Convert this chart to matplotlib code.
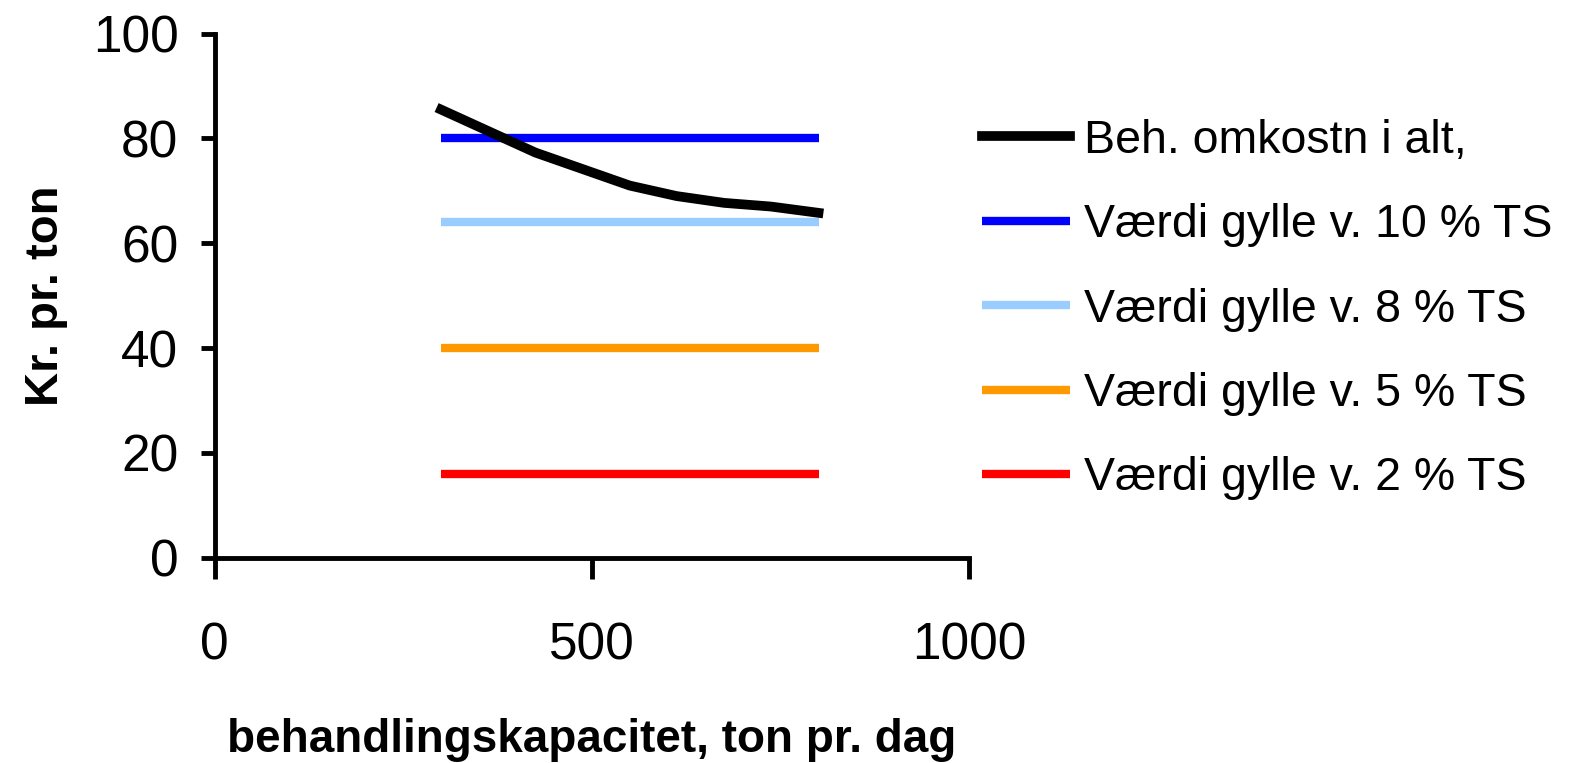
import matplotlib
matplotlib.use("Agg")
import matplotlib.pyplot as plt

plt.rcParams['font.family'] = ['Liberation Sans', 'DejaVu Sans']

# data
kapacitet = [300, 425, 550, 612, 675, 737, 800]
beh_omk = [85.5, 77.3, 71.0, 69.0, 67.7, 67.0, 65.8]

ts_x = [300, 550, 800]
vaerdi_10 = [80, 80, 80]
vaerdi_8 = [64, 64, 64]
vaerdi_5 = [40, 40, 40]
vaerdi_2 = [16, 16, 16]

labels = ["Beh. omkostn i alt,", "Værdi gylle v. 10 % TS", "Værdi gylle v. 8 % TS",
          "Værdi gylle v. 5 % TS", "Værdi gylle v. 2 % TS"]
colors = ["#000000", "#0000ff", "#99ccff", "#ff9900", "#ff0000"]


def main():
    fig = plt.figure(figsize=(15.87, 7.63), dpi=100)
    ax = fig.add_axes([0.1352, 0.269, 0.4757, 0.687])

    ax.plot(kapacitet, beh_omk, color=colors[0], lw=7, label=labels[0], clip_on=False, zorder=5)
    series = [vaerdi_10, vaerdi_8, vaerdi_5, vaerdi_2]
    for s, lab, c in zip(series, labels[1:], colors[1:]):
        ax.plot(ts_x, s, color=c, lw=6, label=lab, clip_on=False, solid_capstyle='butt')

    ax.set_xlim(0, 1000)
    ax.set_ylim(0, 100)
    ax.set_xticks([0, 500, 1000])
    ax.set_yticks([0, 20, 40, 60, 80, 100])

    for side in ['top', 'right']:
        ax.spines[side].set_visible(False)
    for side in ['left', 'bottom']:
        ax.spines[side].set_linewidth(3.5)
    ax.tick_params(axis='y', direction='out', length=10, width=3.5, pad=16, labelsize=37)
    ax.tick_params(axis='x', direction='out', length=15, width=3.5, pad=31, labelsize=37)

    ax.set_xlabel("behandlingskapacitet, ton pr. dag", fontsize=33, fontweight='bold', labelpad=34)
    ax.set_ylabel("Kr. pr. ton", fontsize=34, fontweight='bold', labelpad=18)

    fig.legend(loc='upper left', bbox_to_anchor=(0.607, 0.869), frameon=False, fontsize=33.5,
               handlelength=1.9, handletextpad=0.3, labelspacing=0.87, borderaxespad=0)

    fig.savefig("out.png", dpi=100)


if __name__ == "__main__":
    main()
